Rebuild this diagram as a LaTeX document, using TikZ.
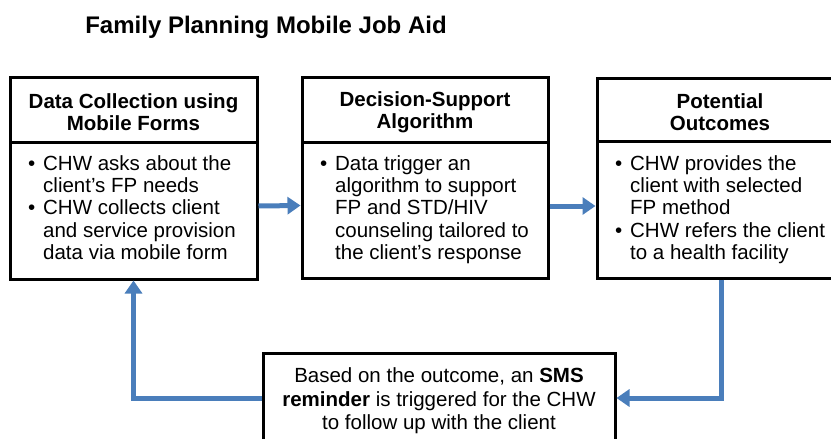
\documentclass[tikz,border=0pt]{standalone}
\usepackage{fontspec}
\setmainfont{Liberation Sans}
\usetikzlibrary{arrows.meta}
\definecolor{arrblue}{RGB}{74,126,187}
\newcommand{\bul}{\makebox[15pt][l]{•}}
\newcommand{\ind}{\hspace*{15pt}}
\begin{document}
\begin{tikzpicture}[x=1pt,y=-1pt,
  boxline/.style={draw=black,line width=3pt},
  headbox/.style={boxline,minimum height=65pt,inner sep=0pt},
  headtext/.style={inner sep=0pt,align=center,
    font=\fontsize{20.5}{22}\selectfont\bfseries},
  bodybox/.style={boxline,inner sep=0pt},
  bodytext/.style={anchor=north west,inner sep=0pt,align=left,
    font=\fontsize{20.5}{22.4}\selectfont},
  arr/.style={draw=arrblue,line width=5pt,-{Triangle[length=13pt,width=17pt]}}]
\useasboundingbox (0,0) rectangle (831,439);
\clip (0,0) rectangle (831,439);
\fill[white] (0,0) rectangle (831,439);

\node[anchor=base,font=\fontsize{24}{28}\selectfont\bfseries] (title) at (266,33) {Family Planning Mobile Job Aid};

% box 1
\node[headbox,minimum width=247pt] (h1) at (133.5,109.5) {};
\node[headtext] (ht1) at (133.5,112.5) {Data Collection using\\Mobile Forms};
\node[bodybox,minimum width=247pt,minimum height=137pt] (b1) at (133.5,210.5) {};
\node[bodytext] (t1) at (28,155) {\bul CHW asks about the\\\ind client’s FP needs\\\bul CHW collects client\\\ind and service provision\\\ind data via mobile form};

% box 2
\node[headbox,minimum width=246pt] (h2) at (425,109.5) {};
\node[headtext] (ht2) at (425,112.5) {Decision-Support\\Algorithm};
\node[bodybox,minimum width=246pt,minimum height=136pt] (b2) at (425,210) {};
\node[bodytext] (t2) at (320,155) {\bul Data trigger an\\\ind algorithm to support\\\ind FP and STD/HIV\\\ind counseling tailored to\\\ind the client’s response};

% box 3
\node[headbox,minimum width=246pt,minimum height=63pt] (h3) at (720,109.5) {};
\node[headtext] (ht3) at (720,112.5) {Potential\\Outcomes};
\node[bodybox,minimum width=246pt,minimum height=137pt] (b3) at (720,209.5) {};
\node[bodytext] (t3) at (615,155) {\bul CHW provides the\\\ind client with selected\\\ind FP method\\\bul CHW refers the client\\\ind to a health facility};

% bottom box
\node[boxline,minimum width=352pt,minimum height=90pt,inner sep=0pt] (sms) at (439,398) {};
\node[inner sep=0pt,align=center,font=\fontsize{20.5}{23.5}\selectfont] (smst) at (439,401)
  {Based on the outcome, an \textbf{SMS}\\\textbf{reminder} is triggered for the CHW\\to follow up with the client};

% arrows
\draw[arr] ([yshift=4.5pt]b1.east) -- ([yshift=4.5pt]b2.west);
\draw[arr] ([yshift=4pt]b2.east) -- ([yshift=3.5pt]b3.west);
\draw[arr] ([xshift=1pt]b3.south) |- (sms.east);
\draw[arr] (sms.west) -| (b1.south);
\end{tikzpicture}
\end{document}
